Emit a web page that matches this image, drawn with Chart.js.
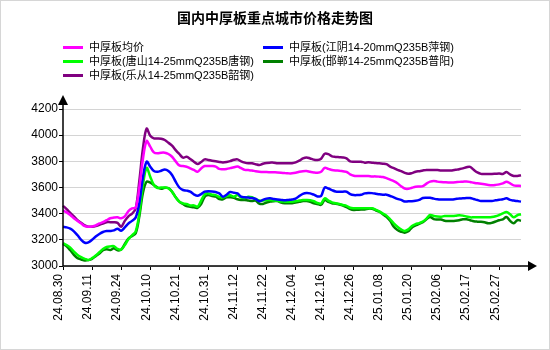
<!DOCTYPE html>
<html lang="zh-CN">
<head>
<meta charset="utf-8">
<title>国内中厚板重点城市价格走势图</title>
<script src="https://cdn.jsdelivr.net/npm/chart.js@4.4.0/dist/chart.umd.min.js"></script>
<style>
    html, body { margin: 0; padding: 0; background: #fff; }
    #wrap { position: relative; width: 550px; height: 350px; font-family: "Liberation Sans", Arial, "Noto Sans CJK SC", sans-serif; }
    #chart { position: absolute; left: 0; top: 0; }
    #title { position: absolute; left: 0; top: 7px; width: 550px; text-align: center; font: bold 14px/20px "Noto Sans CJK SC", sans-serif; color: #000; }
    #legend { position: absolute; left: 63px; top: 0; width: 470px; height: 90px; }
    .item { position: absolute; font-size: 11px; line-height: 14px; white-space: nowrap; color: #000; }
    .swatch { display: inline-block; width: 20px; height: 3px; vertical-align: middle; margin: 0 6px 2px 0; }
    #frame { position: absolute; left: 0; top: 0; width: 548px; height: 348px; border: 1px solid #d6d6d6; pointer-events: none; }
</style>
</head>
<body>
<div id="wrap">
    <canvas id="chart" width="550" height="350"></canvas>
    <div id="title">国内中厚板重点城市价格走势图</div>
    <div id="legend"></div>
    <div id="frame"></div>
</div>
<script>
// tick labels shown every 8 trading days
const tickLabels = ['24.08.30', '24.09.11', '24.09.24', '24.10.10', '24.10.21', '24.10.31', '24.11.12', '24.11.22',
    '24.12.04', '24.12.16', '24.12.26', '25.01.08', '25.01.20', '25.02.06', '25.02.17', '25.02.27'];
const labelStep = 8;

const seriesNames = ['中厚板均价', '中厚板(江阴14-20mmQ235B萍钢)', '中厚板(唐山14-25mmQ235B唐钢)',
    '中厚板(邯郸14-25mmQ235B普阳)', '中厚板(乐从14-25mmQ235B韶钢)'];
const seriesColors = ['#ff00ff', '#0000ff', '#00ff00', '#008000', '#800080'];

// 均价
const avgPrice = [
    3425, 3410, 3390, 3365, 3345, 3325, 3305, 3300, 3302, 3310,
    3325, 3335, 3350, 3365, 3370, 3372, 3365, 3380, 3420, 3440,
    3445, 3600, 3820, 3955, 3912, 3868, 3861, 3866, 3866, 3856,
    3835, 3800, 3769, 3764, 3759, 3746, 3734, 3720, 3746, 3764,
    3764, 3764, 3760, 3742, 3740, 3742, 3748, 3755, 3760, 3748,
    3735, 3733, 3730, 3724, 3720, 3718, 3718, 3717, 3716, 3715,
    3713, 3710, 3708, 3708, 3712, 3720, 3725, 3726, 3720, 3715,
    3713, 3720, 3750, 3742, 3734, 3730, 3728, 3724, 3720, 3700,
    3690, 3688, 3688, 3688, 3688, 3685, 3685, 3683, 3680, 3672,
    3660, 3648, 3632, 3610, 3592, 3590, 3598, 3606, 3608, 3610,
    3630, 3645, 3650, 3645, 3642, 3640, 3638, 3638, 3640, 3643,
    3644, 3646, 3642, 3636, 3632, 3628, 3624, 3620, 3618, 3620,
    3624, 3632, 3644, 3632, 3616, 3614, 3612
];
// 江阴 萍钢
const jiangyin = [
    3300, 3295, 3285, 3265, 3235, 3200, 3178, 3180, 3200, 3225,
    3245, 3260, 3267, 3268, 3272, 3285, 3270, 3295, 3325, 3345,
    3370, 3480, 3680, 3797, 3759, 3726, 3720, 3728, 3738, 3726,
    3695, 3644, 3600, 3581, 3576, 3568, 3548, 3537, 3550, 3568,
    3572, 3570, 3565, 3555, 3530, 3545, 3565, 3560, 3555, 3530,
    3525, 3523, 3520, 3512, 3495, 3505, 3515, 3517, 3512, 3508,
    3505, 3502, 3505, 3508, 3515, 3535, 3552, 3558, 3555, 3545,
    3532, 3535, 3600, 3592, 3580, 3570, 3568, 3568, 3568, 3550,
    3542, 3542, 3545, 3555, 3558, 3557, 3553, 3548, 3545, 3545,
    3535, 3525, 3513, 3505, 3493, 3495, 3495, 3498, 3505, 3520,
    3522, 3522, 3515, 3510, 3508, 3508, 3508, 3508, 3512, 3516,
    3517, 3520, 3520, 3512, 3504, 3497, 3497, 3497, 3497, 3502,
    3506, 3510, 3517, 3505, 3500, 3496, 3492
];
// 唐山 唐钢
const tangshan = [
    3175, 3160, 3140, 3110, 3085, 3068, 3055, 3046, 3060, 3080,
    3105, 3130, 3145, 3150, 3152, 3130, 3125, 3160, 3205, 3235,
    3265, 3400, 3620, 3750, 3683, 3619, 3596, 3600, 3600, 3593,
    3568, 3525, 3492, 3479, 3474, 3463, 3463, 3453, 3500, 3548,
    3555, 3545, 3542, 3527, 3525, 3535, 3540, 3530, 3542, 3522,
    3520, 3530, 3525, 3512, 3500, 3500, 3504, 3504, 3500, 3498,
    3493, 3492, 3492, 3492, 3495, 3500, 3504, 3504, 3502, 3495,
    3482, 3478, 3517, 3500, 3486, 3480, 3475, 3466, 3460, 3445,
    3441, 3441, 3441, 3441, 3441, 3441, 3430, 3418, 3400, 3385,
    3357, 3326, 3300, 3280, 3268, 3280, 3305, 3320, 3328, 3340,
    3362, 3390, 3382, 3378, 3377, 3382, 3382, 3382, 3384, 3388,
    3385, 3378, 3372, 3372, 3372, 3372, 3372, 3372, 3374, 3380,
    3390, 3402, 3413, 3395, 3372, 3388, 3395
];
// 邯郸 普阳
const handan = [
    3168, 3150, 3120, 3085, 3060, 3050, 3042, 3045, 3055, 3075,
    3095, 3120, 3128, 3122, 3135, 3120, 3125, 3168, 3210, 3230,
    3250, 3380, 3560, 3645, 3637, 3619, 3600, 3591, 3598, 3596,
    3568, 3525, 3492, 3474, 3458, 3453, 3448, 3445, 3474, 3530,
    3542, 3535, 3530, 3512, 3510, 3525, 3525, 3522, 3510, 3504,
    3504, 3500, 3497, 3500, 3476, 3474, 3485, 3492, 3495, 3497,
    3485, 3480, 3479, 3480, 3485, 3490, 3497, 3496, 3490, 3480,
    3474, 3468, 3504, 3490, 3480, 3476, 3470, 3462, 3450, 3435,
    3428, 3430, 3432, 3432, 3438, 3437, 3426, 3415, 3395, 3375,
    3345, 3300, 3275, 3262, 3255, 3265, 3295, 3310, 3322, 3335,
    3357, 3375, 3358, 3355, 3355, 3346, 3344, 3344, 3346, 3350,
    3357, 3357, 3350, 3342, 3339, 3338, 3334, 3326, 3330, 3340,
    3350, 3357, 3375, 3345, 3326, 3350, 3346
];
// 乐从 韶钢
const lecong = [
    3460, 3435, 3405, 3380, 3350, 3330, 3310, 3300, 3300, 3305,
    3315, 3325, 3335, 3335, 3335, 3330, 3300, 3345, 3380, 3400,
    3440, 3650, 3900, 4050, 3995, 3975, 3975, 3973, 3963, 3942,
    3920, 3886, 3856, 3828, 3835, 3818, 3797, 3780, 3795, 3815,
    3810, 3805, 3800, 3795, 3792, 3795, 3802, 3812, 3815, 3800,
    3790, 3785, 3785, 3778, 3772, 3782, 3788, 3790, 3790, 3785,
    3785, 3785, 3785, 3785, 3792, 3805, 3822, 3830, 3822, 3813,
    3810, 3820, 3858, 3855, 3838, 3834, 3832, 3830, 3823, 3800,
    3797, 3797, 3797, 3790, 3793, 3790, 3787, 3785, 3782, 3778,
    3760, 3748, 3735, 3725, 3712, 3705, 3710, 3720, 3725, 3730,
    3734, 3734, 3734, 3733, 3730, 3730, 3730, 3730, 3735, 3740,
    3746, 3755, 3758, 3735, 3715, 3704, 3703, 3703, 3703, 3705,
    3707, 3703, 3718, 3700, 3688, 3688, 3694
];

const yMin = 3000, yMax = 4200, yStep = 200;

document.addEventListener('DOMContentLoaded', () => {
    const allSeries = [avgPrice, jiangyin, tangshan, handan, lecong];
    const xLabels = avgPrice.map((v, i) => i % labelStep === 0 ? (tickLabels[i / labelStep] || '') : '');

    // legend: two columns, row by row
    const legendBox = document.getElementById('legend');
    seriesNames.forEach((name, i) => {
        const item = document.createElement('div');
        item.className = 'item';
        item.style.left = (i % 2) * 200 + 'px';
        item.style.top = 40 + Math.floor(i / 2) * 14 + 'px';
        item.innerHTML = `<span class="swatch" style="background:${seriesColors[i]}"></span>${name}`;
        legendBox.appendChild(item);
    });

    // axis lines with arrow heads
    const axisArrows = {
        id: 'axisArrows',
        afterDraw(chart) {
            const { ctx, chartArea: a } = chart;
            ctx.save();
            ctx.strokeStyle = '#000';
            ctx.fillStyle = '#000';
            ctx.lineWidth = 1.5;
            ctx.beginPath();
            ctx.moveTo(a.left, a.bottom);
            ctx.lineTo(a.left, a.top - 6);
            ctx.moveTo(a.left, a.bottom);
            ctx.lineTo(a.right + 8, a.bottom);
            ctx.stroke();
            ctx.beginPath();
            ctx.moveTo(a.left, a.top - 14);
            ctx.lineTo(a.left - 5, a.top - 4);
            ctx.lineTo(a.left + 5, a.top - 4);
            ctx.closePath();
            ctx.fill();
            ctx.beginPath();
            ctx.moveTo(a.right + 16, a.bottom);
            ctx.lineTo(a.right + 7, a.bottom - 5);
            ctx.lineTo(a.right + 7, a.bottom + 5);
            ctx.closePath();
            ctx.fill();
            ctx.restore();
        }
    };

    new Chart(document.getElementById('chart'), {
        type: 'line',
        data: {
            labels: xLabels,
            datasets: allSeries.map((data, i) => ({
                label: seriesNames[i],
                data: data,
                borderColor: seriesColors[i],
                backgroundColor: seriesColors[i],
                borderWidth: 2.5,
                pointRadius: 0,
                tension: 0.35,
                fill: false
            }))
        },
        options: {
            responsive: false,
            animation: false,
            layout: { padding: { top: 109, right: 29, left: 0, bottom: 0 } },
            plugins: {
                legend: { display: false },
                title: { display: false },
                tooltip: { enabled: false }
            },
            scales: {
                x: {
                    afterFit: scale => { scale.height = 84; },
                    border: { display: false },
                    grid: {
                        drawOnChartArea: false,
                        tickLength: 4,
                        tickColor: ctx => ctx.index % labelStep === 0 ? '#000' : 'rgba(0,0,0,0)'
                    },
                    ticks: {
                        autoSkip: false,
                        minRotation: 90,
                        maxRotation: 90,
                        labelOffset: -4,
                        padding: 4,
                        color: '#000',
                        font: { family: 'Liberation Sans', size: 12 }
                    }
                },
                y: {
                    min: yMin,
                    max: yMax,
                    afterFit: scale => { scale.width = 63; },
                    border: { display: false },
                    grid: { color: '#d4d4d4', tickColor: '#000', tickLength: 4 },
                    ticks: {
                        stepSize: yStep,
                        padding: 1,
                        color: '#000',
                        font: { family: 'Liberation Sans', size: 12 },
                        callback: value => String(value)
                    }
                }
            }
        },
        plugins: [axisArrows]
    });
});
</script>
</body>
</html>
